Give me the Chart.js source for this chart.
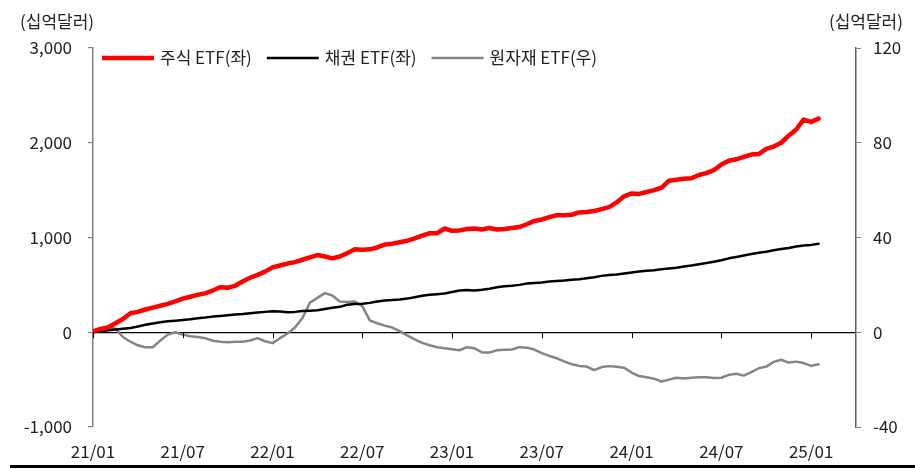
<!DOCTYPE html>
<html>
<head>
<meta charset="utf-8">
<script src="https://cdn.jsdelivr.net/npm/chart.js@4.4.1/dist/chart.umd.min.js"></script>
<style>
  html, body { margin: 0; padding: 0; background: #fff; }
  #wrap { width: 915px; height: 469px; position: relative; }
</style>
</head>
<body>
<div id="wrap"><canvas id="flows"></canvas></div>
<script>
// months since 2021/01, semi-monthly observations
const months = [
  0, 0.5, 1, 1.5, 2, 2.5, 3, 3.5, 4, 4.5,
  5, 5.5, 6, 6.5, 7, 7.5, 8, 8.5, 9, 9.5,
  10, 10.5, 11, 11.5, 12, 12.5, 13, 13.5, 14, 14.5,
  15, 15.5, 16, 16.5, 17, 17.5, 18, 18.5, 19, 19.5,
  20, 20.5, 21, 21.5, 22, 22.5, 23, 23.5, 24, 24.5,
  25, 25.5, 26, 26.5, 27, 27.5, 28, 28.5, 29, 29.5,
  30, 30.5, 31, 31.5, 32, 32.5, 33, 33.5, 34, 34.5,
  35, 35.5, 36, 36.5, 37, 37.5, 38, 38.5, 39, 39.5,
  40, 40.5, 41, 41.5, 42, 42.5, 43, 43.5, 44, 44.5,
  45, 45.5, 46, 46.5, 47, 47.5, 48, 48.5
]

// cumulative flows, 십억달러
const equityEtf = [
  10, 35, 50, 95, 140, 200, 215, 240, 260, 280,
  300, 325, 355, 375, 395, 410, 440, 475, 470, 490,
  535, 575, 605, 640, 685, 705, 725, 740, 765, 790,
  815, 800, 780, 800, 835, 875, 870, 875, 895, 925,
  935, 950, 965, 990, 1020, 1045, 1045, 1095, 1070, 1075,
  1090, 1095, 1085, 1100, 1085, 1090, 1100, 1110, 1140, 1175,
  1190, 1215, 1235, 1235, 1240, 1265, 1270, 1280, 1300, 1320,
  1370, 1435, 1465, 1460, 1480, 1500, 1525, 1600, 1610, 1620,
  1625, 1660, 1680, 1710, 1770, 1810, 1825, 1850, 1875, 1880,
  1935, 1960, 2000, 2075, 2140, 2245, 2220, 2255
]

const bondEtf = [
  0, 10, 20, 28, 38, 45, 60, 80, 92, 105,
  115, 122, 130, 138, 148, 155, 165, 172, 180, 187,
  192, 200, 208, 215, 222, 218, 212, 215, 225, 228,
  232, 245, 258, 268, 290, 298, 300, 310, 325, 335,
  340, 345, 355, 370, 385, 395, 402, 410, 425, 440,
  445, 440, 448, 460, 475, 485, 490, 500, 515, 520,
  525, 535, 540, 545, 555, 560, 570, 580, 595, 605,
  610, 620, 630, 640, 648, 655, 665, 672, 680, 695,
  705, 718, 730, 745, 760, 780, 795, 810, 825, 838,
  850, 865, 878, 890, 905, 915, 922, 935
]

const commodityEtf = [
  0.5, 1.3, 2.5, 1.5, -2, -4, -5.5, -6.3, -6.3, -3.5,
  -1, 0, -1, -1.7, -2, -2.5, -3.6, -4, -4.2, -4,
  -4, -3.5, -2.5, -3.8, -4.6, -2.5, -0.5, 2, 6, 12.5,
  14.5, 16.5, 15.5, 13, 12.8, 13, 11, 5, 3.8, 2.8,
  2, 0.5, -1.3, -3, -4.5, -5.5, -6.3, -6.8, -7.2, -7.6,
  -6.3, -6.8, -8.5, -8.6, -7.6, -7.4, -7.3, -6.3, -6.5, -7.3,
  -8.8, -10, -11, -12.3, -13.5, -14.2, -14.5, -16, -14.7, -14.3,
  -14.6, -15, -17, -18.5, -19, -19.6, -20.8, -20, -19.2, -19.5,
  -19.2, -19, -19, -19.3, -19.2, -18, -17.5, -18.3, -16.8, -15.2,
  -14.5, -12.5, -11.6, -12.8, -12.4, -13, -14.2, -13.5
]

const tickMonths = [0, 6, 12, 18, 24, 30, 36, 42, 48]
const tickLabels = ['21/01', '21/07', '22/01', '22/07', '23/01', '23/07', '24/01', '24/07', '25/01']
const seriesNames = ['주식 ETF(좌)', '채권 ETF(좌)', '원자재 ETF(우)']
const unitLabel = '(십억달러)'

const FONT = '"Noto Sans CJK KR", "Noto Sans", sans-serif'
const TEXT = '#222'

const toPoints = values => values.map((v, i) => ({ x: months[i], y: v }))

const decor = {
  id: 'decor',
  afterDraw(chart) {
    const { ctx, chartArea, scales } = chart
    ctx.save()

    // x tick marks hanging from the zero line
    const y0 = scales.y.getPixelForValue(0)
    ctx.strokeStyle = '#000'
    ctx.lineWidth = 1
    tickMonths.forEach(m => {
      const x = Math.round(scales.x.getPixelForValue(m)) + 0.5
      ctx.beginPath()
      ctx.moveTo(x, y0)
      ctx.lineTo(x, y0 + 6)
      ctx.stroke()
    })

    // unit labels
    ctx.font = '17px ' + FONT
    ctx.fillStyle = TEXT
    ctx.textBaseline = 'middle'
    ctx.textAlign = 'left'
    ctx.fillText(unitLabel, 20, 22)
    ctx.textAlign = 'right'
    ctx.fillText(unitLabel, 903, 22)

    // legend
    let x = chartArea.left + 9
    const ly = chartArea.top + 10
    ctx.textAlign = 'left'
    chart.data.datasets.forEach(ds => {
      ctx.strokeStyle = ds.borderColor
      ctx.lineWidth = ds.borderWidth
      ctx.beginPath()
      ctx.moveTo(x, ly)
      ctx.lineTo(x + 52, ly)
      ctx.stroke()
      x += 58
      ctx.fillStyle = TEXT
      ctx.fillText(ds.label, x, ly)
      x += ctx.measureText(ds.label).width + 15
    })

    // bottom rule
    ctx.fillStyle = '#000'
    ctx.fillRect(10, 465, chart.width - 10, 3)
    ctx.restore()
  }
}

new Chart(document.getElementById('flows'), {
  type: 'line',
  data: {
    datasets: [{
      label: seriesNames[0],
      data: toPoints(equityEtf),
      borderColor: '#ff0000',
      borderWidth: 4.5,
      yAxisID: 'y'
    }, {
      label: seriesNames[1],
      data: toPoints(bondEtf),
      borderColor: '#000000',
      borderWidth: 2.5,
      yAxisID: 'y'
    }, {
      label: seriesNames[2],
      data: toPoints(commodityEtf),
      borderColor: '#858585',
      borderWidth: 2.5,
      yAxisID: 'y1'
    }]
  },
  options: {
    responsive: true,
    maintainAspectRatio: false,
    animation: false,
    devicePixelRatio: 1,
    layout: { padding: { top: 48, left: 0, right: 0, bottom: 0 } },
    elements: {
      point: { radius: 0 },
      line: { tension: 0, borderJoinStyle: 'round', borderCapStyle: 'round' }
    },
    plugins: {
      legend: { display: false },
      tooltip: { enabled: false }
    },
    scales: {
      x: {
        type: 'linear',
        min: 0,
        max: 51,
        afterBuildTicks: scale => { scale.ticks = tickMonths.map(v => ({ value: v })) },
        afterFit: scale => { scale.height = 42 },
        grid: { display: false, drawTicks: false },
        border: { display: false },
        ticks: {
          autoSkip: false,
          maxRotation: 0,
          padding: 14,
          color: TEXT,
          font: { family: FONT, size: 17 },
          callback: (value, index) => tickLabels[index]
        }
      },
      y: {
        position: 'left',
        min: -1000,
        max: 3000,
        afterFit: scale => { scale.width = 93 },
        grid: {
          color: ctx => ctx.tick && ctx.tick.value === 0 ? '#000' : 'rgba(0,0,0,0)',
          lineWidth: 1.2,
          tickColor: '#808080',
          tickLength: 5
        },
        border: { color: '#808080', width: 1.5 },
        ticks: {
          stepSize: 1000,
          padding: 16,
          color: TEXT,
          font: { family: FONT, size: 17 },
          callback: v => v.toLocaleString('en-US')
        }
      },
      y1: {
        position: 'right',
        min: -40,
        max: 120,
        afterFit: scale => { scale.width = 59 },
        grid: { drawOnChartArea: false, tickColor: '#808080', tickLength: 5 },
        border: { color: '#606060', width: 1.5 },
        ticks: {
          stepSize: 40,
          padding: 12,
          color: TEXT,
          font: { family: FONT, size: 17 }
        }
      }
    }
  },
  plugins: [decor]
})
</script>
</body>
</html>
